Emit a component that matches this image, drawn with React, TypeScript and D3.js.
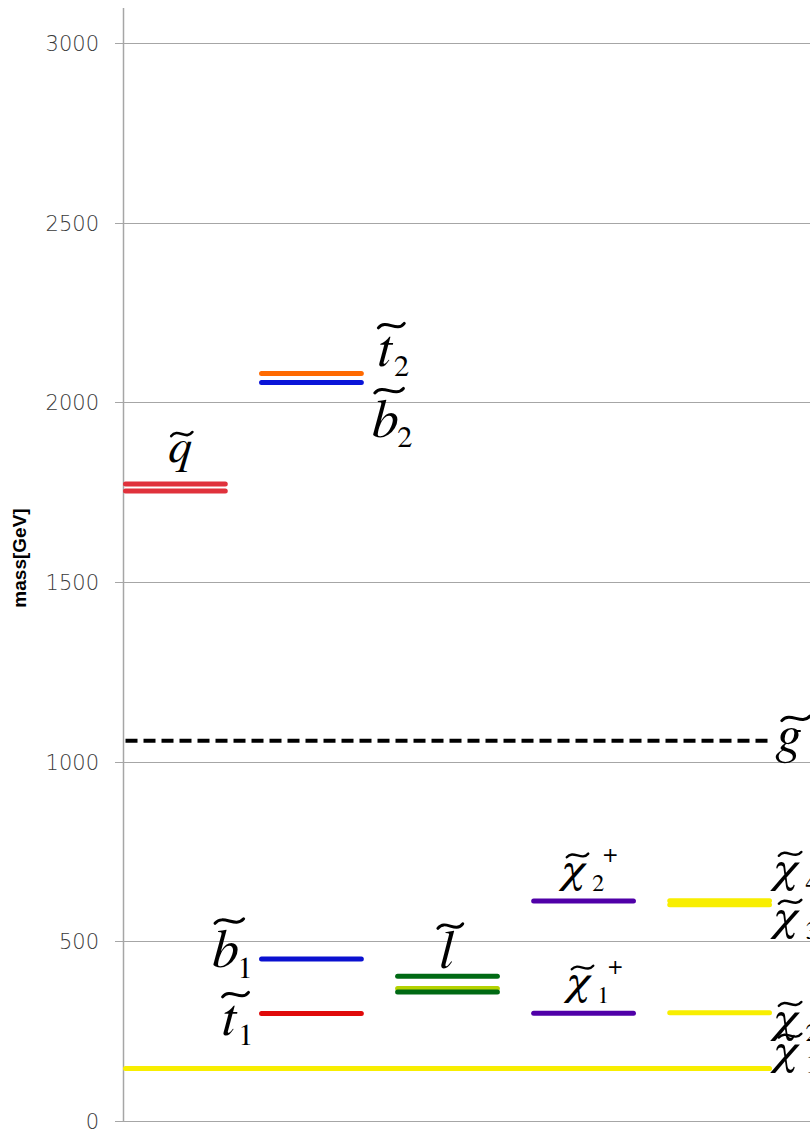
import React from 'react';
import * as d3 from 'd3';

// columns of the spectrum plot
const columns = ['squark', 'stop_sbottom', 'slepton', 'chargino', 'neutralino'];
const massTicks = [0, 500, 1000, 1500, 2000, 2500, 3000];

// mass levels (GeV)
const particles = ['q_up', 'q_down', 't2', 'b2', 'b1', 't1', 'l_a', 'l_b', 'l_c', 'c2p', 'c1p', 'n4', 'n3', 'n2', 'n1', 'gluino'];
const masses = [1773, 1753, 2080, 2055, 451, 299, 403, 369, 359, 612, 300, 613, 602, 301, 146, 1058];
const firstColumn = ['squark', 'squark', 'stop_sbottom', 'stop_sbottom', 'stop_sbottom', 'stop_sbottom', 'slepton', 'slepton', 'slepton', 'chargino', 'chargino', 'neutralino', 'neutralino', 'neutralino', 'squark', 'squark'];
const lastColumn = ['squark', 'squark', 'stop_sbottom', 'stop_sbottom', 'stop_sbottom', 'stop_sbottom', 'slepton', 'slepton', 'slepton', 'chargino', 'chargino', 'neutralino', 'neutralino', 'neutralino', 'neutralino', 'neutralino'];

// labels
const labelParticle = ['q_up', 't2', 'b2', 'gluino', 'b1', 't1', 'l_a', 'c2p', 'c1p', 'n4', 'n3', 'n2', 'n1'];
const labelBase = ['q', 't', 'b', 'g', 'b', 't', 'l', 'χ', 'χ', 'χ', 'χ', 'χ', 'χ'];
const labelSub = ['', '2', '2', '', '1', '1', '', '2', '1', '4', '3', '2', '1'];
const labelSup = ['', '', '', '', '', '', '', '+', '+', '', '', '', ''];

const colorOf: Record<string, string> = {
  q_up: '#e0323c', q_down: '#e0323c',
  t2: '#ff6a00', b2: '#0a14d8', b1: '#0a10d0', t1: '#e00a0a',
  l_a: '#006a14', l_b: '#b4d200', l_c: '#006a14',
  c2p: '#5000a8', c1p: '#5000a8',
  n4: '#f8ee00', n3: '#f8ee00', n2: '#f8ee00', n1: '#f8ee00',
  gluino: '#000000',
};

// where each label sits: column edge, offsets from the level line, font size
const placement: Record<string, { col: string; edge: 'left' | 'center' | 'right'; dx: number; dy: number; size: number }> = {
  q_up: { col: 'squark', edge: 'center', dx: -7, dy: -22, size: 48 },
  t2: { col: 'stop_sbottom', edge: 'right', dx: 14, dy: -8, size: 54 },
  b2: { col: 'stop_sbottom', edge: 'right', dx: 8, dy: 54, size: 54 },
  gluino: { col: 'neutralino', edge: 'right', dx: 5, dy: 11, size: 54 },
  b1: { col: 'stop_sbottom', edge: 'left', dx: -47, dy: 8, size: 54 },
  t1: { col: 'stop_sbottom', edge: 'left', dx: -37, dy: 21, size: 54 },
  l_a: { col: 'slepton', edge: 'center', dx: -8, dy: -8, size: 54 },
  c2p: { col: 'chargino', edge: 'left', dx: 30, dy: -19, size: 43 },
  c1p: { col: 'chargino', edge: 'left', dx: 35, dy: -19, size: 43 },
  n4: { col: 'neutralino', edge: 'right', dx: 1, dy: -19, size: 45 },
  n3: { col: 'neutralino', edge: 'right', dx: 1, dy: 25, size: 45 },
  n2: { col: 'neutralino', edge: 'right', dx: 1, dy: 19, size: 45 },
  n1: { col: 'neutralino', edge: 'right', dx: 1, dy: -5, size: 45 },
};

// glyph metrics in em: horizontal stretch, subscript x, tilde centre x/y, tilde width
const glyph: Record<string, { sx: number; sub: number; tx: number; ty: number; tw: number }> = {
  q: { sx: 1, sub: 0.5, tx: 0.28, ty: -0.58, tw: 0.44 },
  t: { sx: 1, sub: 0.3, tx: 0.25, ty: -0.74, tw: 0.48 },
  b: { sx: 1, sub: 0.47, tx: 0.32, ty: -0.85, tw: 0.53 },
  g: { sx: 1, sub: 0.5, tx: 0.35, ty: -0.62, tw: 0.52 },
  l: { sx: 1, sub: 0.3, tx: 0.2, ty: -0.78, tw: 0.46 },
  'χ': { sx: 1.2, sub: 0.72, tx: 0.38, ty: -0.62, tw: 0.5 },
};

const W = 810;
const H = 1134;
const mathFont = "FreeSerif, 'Liberation Serif', serif";

function tildePath(cx: number, cy: number, w: number, h: number) {
  const p = d3.path();
  const x0 = cx - w / 2;
  const x1 = cx + w / 2;
  p.moveTo(x0, cy + h * 0.35);
  p.bezierCurveTo(x0 + w * 0.3, cy - h * 1.15, x0 + w * 0.7, cy + h * 1.15, x1, cy - h * 0.35);
  return p.toString();
}

export default function App() {
  const y = d3.scaleLinear().domain([0, 3000]).range([1121, 43]);
  const x = d3.scaleBand<string>().domain(columns).range([123, 772]).paddingInner(0.23).paddingOuter(0).align(0);
  const bw = x.bandwidth();
  const axisX = 123.5;

  const massOf = (name: string) => masses[particles.indexOf(name)];

  return (
    <svg width={W} height={H} style={{ position: 'absolute', left: 0, top: 0, background: '#fff' }}>
      <rect width={W} height={H} fill="#fff" />
      {/* grid + ticks */}
      {massTicks.map((t) => (
        <g key={t}>
          <line x1={115} x2={W} y1={Math.round(y(t)) + 0.5} y2={Math.round(y(t)) + 0.5} stroke="#a6a6a6" strokeWidth={1} />
          <text x={99} y={y(t) + 8} textAnchor="end" fontFamily="DejaVu Sans" fontWeight={200} fontSize={21} fill="#3a3a3a">
            {t}
          </text>
        </g>
      ))}
      <line x1={axisX} x2={axisX} y1={8} y2={y(0)} stroke="#a6a6a6" strokeWidth={1.5} />
      <text transform="translate(26,558) rotate(-90)" textAnchor="middle" fontFamily="Liberation Sans" fontWeight="bold" fontSize={19} fill="#000">
        mass[GeV]
      </text>

      {/* mass levels */}
      {particles.map((p, i) => {
        const x0 = x(firstColumn[i])!;
        const x1 = x(lastColumn[i])! + bw;
        const yy = y(masses[i]);
        const dashed = p === 'gluino';
        return (
          <line
            key={p}
            x1={x0 + 2.5}
            x2={x1 - 2.5}
            y1={yy}
            y2={yy}
            stroke={colorOf[p]}
            strokeWidth={dashed ? 4 : 5}
            strokeLinecap={dashed ? 'butt' : 'round'}
            strokeDasharray={dashed ? '12 6' : undefined}
          />
        );
      })}

      {/* labels */}
      {labelParticle.map((p, i) => {
        const pl = placement[p];
        const base = labelBase[i];
        const g = glyph[base];
        const s = pl.size;
        const edgeX = pl.edge === 'left' ? x(pl.col)! : pl.edge === 'right' ? x(pl.col)! + bw : x(pl.col)! + bw / 2;
        const lx = edgeX + pl.dx;
        const by = y(massOf(p)) + pl.dy;
        return (
          <g key={p}>
            <text transform={`translate(${lx},${by}) scale(${g.sx},1)`} fontFamily={mathFont} fontStyle="italic" fontSize={s} fill="#000">
              {base}
            </text>
            <path d={tildePath(lx + g.tx * s, by + g.ty * s, g.tw * s, 0.12 * s)} fill="none" stroke="#000" strokeWidth={s * 0.055} strokeLinecap="round" />
            {labelSub[i] && (
              <text x={lx + g.sub * s} y={by + 0.2 * s} fontFamily={mathFont} fontSize={s * 0.56} fill="#000">
                {labelSub[i]}
              </text>
            )}
            {labelSup[i] && (
              <text x={lx + 0.98 * s} y={by - 0.46 * s} fontFamily={mathFont} fontSize={s * 0.58} fill="#000">
                {labelSup[i]}
              </text>
            )}
          </g>
        );
      })}
    </svg>
  );
}
